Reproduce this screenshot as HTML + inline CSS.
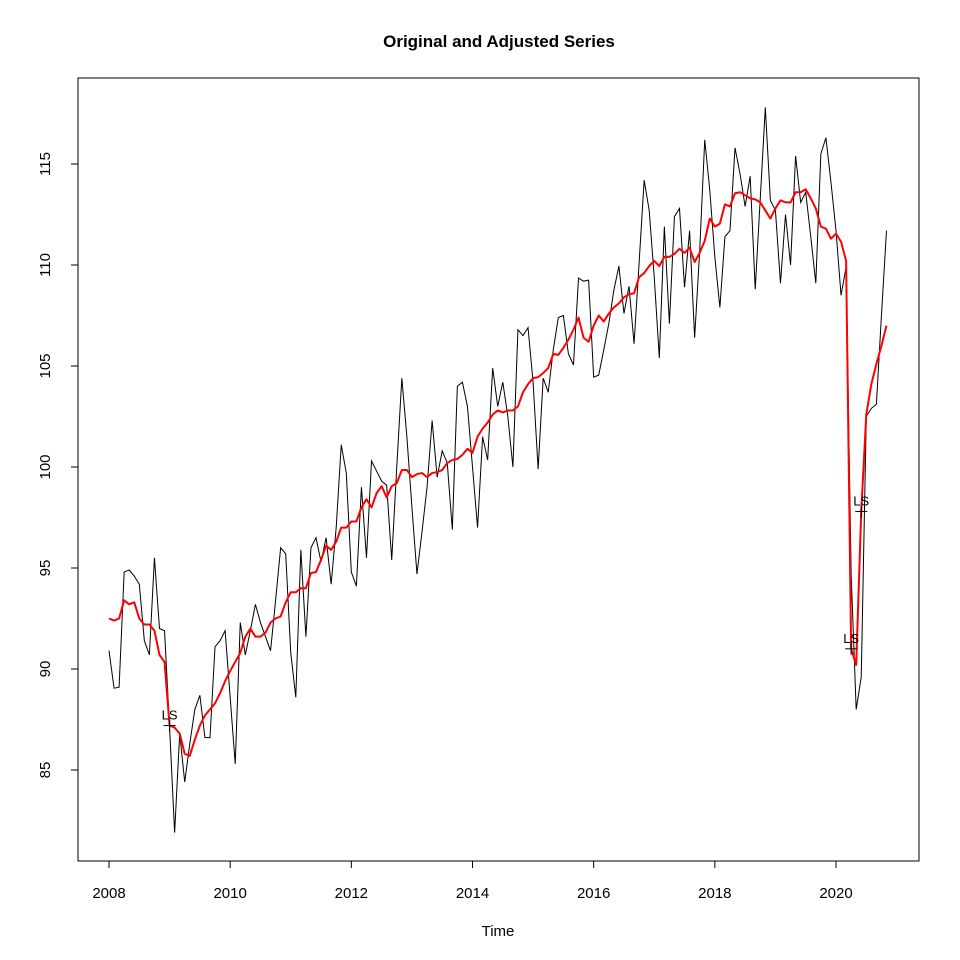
<!DOCTYPE html>
<html><head><meta charset="utf-8"><style>
body{margin:0;background:#fff}
svg{display:block;font-family:"Liberation Sans",Arial,sans-serif}
</style></head><body>
<svg id="chart" width="960" height="960" viewBox="0 0 960 960" xmlns="http://www.w3.org/2000/svg">
<rect width="960" height="960" fill="#fff"/>
<text x="499" y="47" text-anchor="middle" font-size="17" font-weight="bold">Original and Adjusted Series</text>
<rect x="78" y="78" width="841" height="783" fill="none" stroke="#000" stroke-width="1"/>
<g id="xaxis"></g>
<g id="yaxis"></g>
<text x="498" y="936" text-anchor="middle" font-size="15">Time</text>
<g id="series"></g>
</svg>
<script>
const startYear = 2008;
const xTicks = [2008, 2010, 2012, 2014, 2016, 2018, 2020];
const yTicks = [85, 90, 95, 100, 105, 110, 115];
const original = [
90.9,89.05,89.1,94.8,94.9,94.6,94.2,91.4,90.7,95.5,92.0,91.9,
87.1,81.9,86.8,84.4,86.3,88.0,88.7,86.6,86.6,91.1,91.4,91.9,
88.6,85.3,92.3,90.7,91.9,93.2,92.3,91.6,90.9,93.4,96.0,95.7,
90.8,88.6,95.9,91.6,96.0,96.5,95.3,96.5,94.2,97.0,101.1,99.7,
94.8,94.1,99.0,95.5,100.3,99.8,99.3,99.1,95.4,100.0,104.4,101.5,
98.0,94.7,96.8,99.0,102.3,99.5,100.8,100.2,96.9,104.0,104.2,103.0,
100.0,97.0,101.5,100.35,104.9,103.0,104.2,102.5,100.0,106.8,106.5,106.9,
104.2,99.9,104.4,103.7,105.8,107.4,107.5,105.6,105.05,109.35,109.2,109.25,
104.45,104.55,105.8,107.1,108.75,109.95,107.6,108.95,106.1,110.1,114.2,112.7,
109.4,105.4,111.9,107.1,112.4,112.8,108.9,111.7,106.4,110.7,116.2,113.7,
110.4,107.9,111.4,111.7,115.8,114.5,112.9,114.4,108.8,113.3,117.8,113.2,
112.7,109.1,112.5,110.0,115.4,113.1,113.6,111.4,109.1,115.5,116.3,114.1,
111.7,108.5,109.9,94.7,88.0,89.6,102.5,102.9,103.1,107.5,111.7];
const adjusted = [
92.5,92.4,92.5,93.4,93.2,93.3,92.5,92.2,92.2,91.9,90.7,90.35,
87.2,87.1,86.8,85.8,85.7,86.5,87.2,87.7,88.0,88.3,88.8,89.4,
89.9,90.35,90.8,91.6,92.0,91.6,91.6,91.8,92.3,92.5,92.6,93.3,
93.8,93.8,94.0,94.0,94.75,94.8,95.4,96.1,95.9,96.3,97.0,97.0,
97.3,97.3,98.0,98.4,98.0,98.7,99.05,98.5,99.05,99.2,99.85,99.85,
99.5,99.65,99.7,99.5,99.7,99.75,99.85,100.2,100.35,100.4,100.6,100.9,
100.7,101.5,101.9,102.2,102.6,102.8,102.7,102.8,102.8,103.0,103.7,104.1,
104.4,104.45,104.65,104.9,105.6,105.55,105.9,106.3,106.8,107.4,106.4,106.2,
107.0,107.5,107.2,107.6,107.9,108.1,108.4,108.55,108.6,109.4,109.6,109.95,
110.2,109.95,110.4,110.4,110.55,110.8,110.6,110.85,110.15,110.6,111.2,112.3,
111.9,112.05,113.0,112.9,113.55,113.6,113.45,113.3,113.25,113.1,112.7,112.3,
112.8,113.2,113.1,113.1,113.6,113.6,113.75,113.3,112.8,111.9,111.8,111.3,
111.55,111.15,110.2,91.0,90.2,97.8,102.6,104.1,105.1,106.0,107.0];
const outlierIdx = [12, 147, 149];
const outlierLabels = ["LS", "LS", "LS"];

const NS = "http://www.w3.org/2000/svg";
function xPos(t){ return 109 + (t - 2008) * (836 - 109) / 12; }
function yPos(v){ return 164 + (115 - v) * (770 - 164) / 30; }
function tOf(i){ return startYear + i / 12; }
function mk(tag, attrs, parent){ const e = document.createElementNS(NS, tag); for (const k in attrs) e.setAttribute(k, attrs[k]); parent.appendChild(e); return e; }

const xa = document.getElementById('xaxis');
const ya = document.getElementById('yaxis');
const sg = document.getElementById('series');

const xl = mk('line', {x1: xPos(xTicks[0]), x2: xPos(xTicks[xTicks.length-1]), y1: 861, y2: 861, stroke: '#000'}, xa);


xTicks.forEach(t => {
  const tk = mk('line', {x1: xPos(t), x2: xPos(t), y1: 861, y2: 868, stroke: '#000'}, xa);
  
  
  const lb = mk('text', {x: xPos(t), y: 898, 'text-anchor': 'middle', 'font-size': '15'}, xa);
  lb.textContent = t;
  
  
});
const yl = mk('line', {x1: 78, x2: 78, y1: yPos(yTicks[0]), y2: yPos(yTicks[yTicks.length-1]), stroke: '#000'}, ya);


yTicks.forEach(v => {
  const tk = mk('line', {x1: 71, x2: 78, y1: yPos(v), y2: yPos(v), stroke: '#000'}, ya);
  
  
  const lb = mk('text', {x: 0, y: 0, 'text-anchor': 'middle', 'font-size': '15', transform: 'translate(50,' + yPos(v) + ') rotate(-90)'}, ya);
  lb.textContent = v;
  
  
});

const origPts = original.map((v, i) => xPos(tOf(i)).toFixed(2) + ',' + yPos(v).toFixed(2)).join(' ');
const ol = mk('polyline', {points: origPts, fill: 'none', stroke: '#000', 'stroke-width': '1'}, sg);



const adjPts = adjusted.map((v, i) => xPos(tOf(i)).toFixed(2) + ',' + yPos(v).toFixed(2)).join(' ');
const al = mk('polyline', {points: adjPts, fill: 'none', stroke: '#ff0000', 'stroke-width': '2', 'stroke-linejoin': 'round'}, sg);



outlierIdx.forEach((idx, k) => {
  const cx = xPos(tOf(idx)), cy = yPos(adjusted[idx]);
  const g = mk('g', {}, sg);
  
  
  mk('line', {x1: cx - 6, x2: cx + 6, y1: cy, y2: cy, stroke: '#000'}, g);
  mk('line', {x1: cx, x2: cx, y1: cy - 6, y2: cy + 6, stroke: '#000'}, g);
  const t = mk('text', {x: cx, y: cy - 6, 'text-anchor': 'middle', 'font-size': '13'}, g);
  t.textContent = outlierLabels[k];
  
  
});
</script>
</body></html>
